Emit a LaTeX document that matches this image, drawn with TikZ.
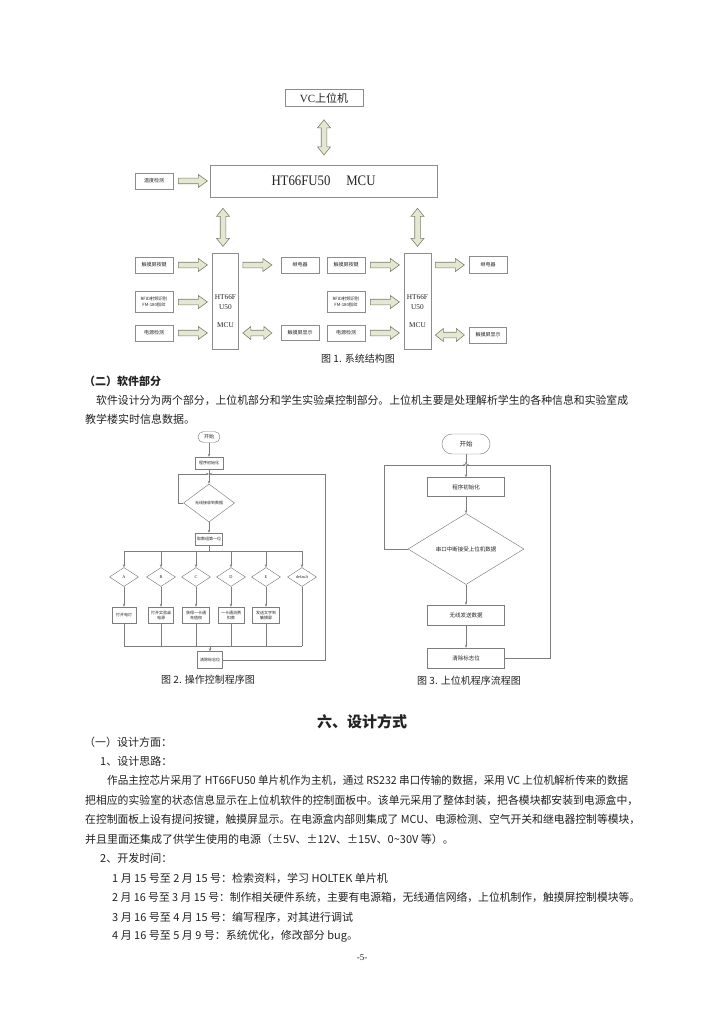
\documentclass[tikz,border=0pt]{standalone}
\usepackage{fontspec}
\usepackage{graphicx}
\setmainfont{Noto Sans CJK SC}
\newfontfamily\serf{Liberation Serif}
\usetikzlibrary{shapes.geometric,arrows.meta}
\definecolor{arrfill}{RGB}{228,231,210}
\definecolor{arrline}{RGB}{125,128,105}
\definecolor{boxline}{RGB}{140,140,140}
\definecolor{flow}{RGB}{125,125,125}
\definecolor{txt}{RGB}{35,35,35}
\begin{document}
\begin{tikzpicture}[x=1pt,y=-1pt,
  lbox/.style={draw=boxline, line width=0.7pt, inner sep=0.5pt, align=center, font=\fontsize{5}{6}\selectfont, text=txt},
  blk/.style={draw=arrline, fill=arrfill, line width=0.6pt, line join=miter},
  fl/.style={draw=flow, line width=0.45pt},
  fla/.style={draw=flow, line width=0.45pt, -{Stealth[length=3pt,width=2.4pt]}},
  flbox/.style={draw=flow, line width=0.45pt, inner sep=0.3pt, align=center, text=txt},
  fldia/.style={diamond, draw=flow, line width=0.45pt, inner sep=0pt, align=center, text=txt},
  body/.style={anchor=west, inner sep=0pt, font=\fontsize{11}{13}\selectfont, text=txt},
  capt/.style={inner sep=0pt, font=\fontsize{10}{12}\selectfont, text=txt},
  pics/rarr/.style={code={\draw[blk] (0,-2.8)--(20,-2.8)--(20,-6.5)--(29,0)--(20,6.5)--(20,2.8)--(0,2.8)--cycle;}},
  pics/harr/.style={code={\draw[blk] (0,0)--(8,-6.5)--(8,-2.8)--(21,-2.8)--(21,-6.5)--(29,0)--(21,6.5)--(21,2.8)--(8,2.8)--(8,6.5)--cycle;}},
  pics/varr/.style={code={\draw[blk] (0,0)--(6.5,8)--(2.8,8)--(2.8,#1-8)--(6.5,#1-8)--(0,#1)--(-6.5,#1-8)--(-2.8,#1-8)--(-2.8,8)--(-6.5,8)--cycle;}},
]
\useasboundingbox[fill=white] (0,0) rectangle (724,1024);

%% ---------------- Figure 1 ----------------
\node[lbox, minimum width=78, minimum height=17, font=\fontsize{11}{12}\selectfont] (vc) at (324,98) {{\serf VC}上位机};
\node[lbox, minimum width=227, minimum height=32, font=\serf\fontsize{14.5}{15}\selectfont] (mcu) at (323.5,181) {\resizebox{104pt}{\height}{HT66FU50\hspace{18pt}MCU}};
\node[lbox, minimum width=38, minimum height=16] (temp) at (154,181) {温度检测};

\node[lbox, minimum width=38, minimum height=16] (lk1) at (154,265) {触摸屏按键};
\node[lbox, minimum width=38, minimum height=21, font=\fontsize{4.3}{5.5}\selectfont] (lk2) at (154,302) {RFID射频识别\\FM-180指纹};
\node[lbox, minimum width=38, minimum height=16] (lk3) at (154,333) {电源检测};
\node[lbox, minimum width=26, minimum height=96] (lmcu) at (225.5,301) {};
\node[inner sep=0pt, align=center, font=\serf\fontsize{7.3}{10}\selectfont, text=txt] at ([yshift=-10pt]lmcu.center) {HT66F\\U50\\[8pt]MCU};
\node[lbox, minimum width=38, minimum height=16] (jd1) at (300,265) {继电器};
\node[lbox, minimum width=38, minimum height=15] (xs1) at (300,333) {触摸屏显示};

\node[lbox, minimum width=38, minimum height=16] (rk1) at (346,265) {触摸屏按键};
\node[lbox, minimum width=38, minimum height=21, font=\fontsize{4.3}{5.5}\selectfont] (rk2) at (346,302) {RFID射频识别\\FM-180指纹};
\node[lbox, minimum width=38, minimum height=16] (rk3) at (346,333) {电源检测};
\node[lbox, minimum width=27, minimum height=96] (rmcu) at (417.5,301) {};
\node[inner sep=0pt, align=center, font=\serf\fontsize{7.3}{10}\selectfont, text=txt] at ([yshift=-10pt]rmcu.center) {HT66F\\U50\\[8pt]MCU};
\node[lbox, minimum width=38, minimum height=17] (jd2) at (488,265) {继电器};
\node[lbox, minimum width=37, minimum height=16] (xs2) at (488,335) {触摸屏显示};

% block arrows
\path ([yshift=-13pt]vc.south) pic {varr=35};
\path ([xshift=5pt]temp.east) pic {rarr};
\path ([xshift=-2.5pt,yshift=-11pt]mcu.south -| lmcu.center) pic {varr=38};
\path ([yshift=-11pt]mcu.south -| rmcu.center) pic {varr=38};
\path ([xshift=5pt]lk1.east) pic {rarr};
\path ([xshift=5pt]lk2.east) pic {rarr};
\path ([xshift=5pt]lk3.east) pic {rarr};
\path ([xshift=4pt]lmcu.east |- jd1.center) pic {rarr};
\path ([xshift=4pt]lmcu.east |- xs1.center) pic {harr};
\path ([xshift=5pt]rk1.east) pic {rarr};
\path ([xshift=5pt]rk2.east) pic {rarr};
\path ([xshift=5pt]rk3.east) pic {rarr};
\path ([xshift=4pt]rmcu.east |- jd2.center) pic {rarr};
\path ([xshift=4pt]rmcu.east |- xs2.center) pic {harr};

\node[capt] (cap1) at (358,359) {图 1. 系统结构图};

%% ---------------- text block 1 ----------------
\node[body, font=\bfseries\fontsize{11}{13}\selectfont] (h2) at (84,381) {（二）软件部分};
\node[body] (p1) at (96,400) {\resizebox{532pt}{\height}{软件设计分为两个部分，上位机部分和学生实验桌控制部分。上位机主要是处理解析学生的各种信息和实验室成}};
\node[body] (p2) at (85,419) {教学楼实时信息数据。};

%% ---------------- Figure 2 ----------------
\begin{scope}[every node/.append style={font=\fontsize{4}{5}\selectfont}]
\node[flbox, rounded corners=5.5pt, minimum width=22, minimum height=11, font=\fontsize{5}{6}\selectfont] (s2) at (209,437) {开始};
\node[flbox, minimum width=28, minimum height=12] (i2) at (209,463) {程序初始化};
\node[fldia, minimum width=51, minimum height=38] (q2) at (209,503) {无线接收到数据};
\node[flbox, minimum width=27, minimum height=12] (f2) at (209,539) {取数组第一位};
\coordinate (j2) at (209,474);
\coordinate (bus) at (209,551);
\coordinate (mrg) at (209,646);
\foreach \n/\x/\t in {1/124/A,2/161/B,3/196/C,4/231/D,5/266/E,6/302/default}
  \node[fldia, minimum width=29, minimum height=19, font=\serf\fontsize{4.3}{5}\selectfont] (d\n) at (\x,577) {\t};
\node[flbox, minimum width=24, minimum height=16] (b1) at (124,615) {打开电灯};
\node[flbox, minimum width=25, minimum height=16] (b2) at (161,615) {打开实验桌\\电源};
\node[flbox, minimum width=27, minimum height=16] (b3) at (196,615) {获得一卡通\\充值权};
\node[flbox, minimum width=26, minimum height=16] (b4) at (231,615) {一卡通消费\\扣款};
\node[flbox, minimum width=27, minimum height=16] (b5) at (266,615) {发送文字到\\触摸屏};
\node[flbox, minimum width=25, minimum height=17] (e2) at (210,660) {清除标志位};
\end{scope}
\draw[fla] (s2) -- (i2);
\draw[fla] (i2) -- (q2);
\draw[fla] (q2) -- (f2);
\draw[fl] (f2) -- (bus);
\draw[fl] (d1.north |- bus) -- (d6.north |- bus);
\foreach \n in {1,...,6} \draw[fla] (d\n.north |- bus) -- (d\n.north);
\foreach \n in {1,...,5} {\draw[fla] (d\n) -- (b\n); \draw[fl] (b\n.south) -- (b\n.south |- mrg);}
\draw[fl] (d6.south) -- (d6.south |- mrg);
\draw[fl] (b1.south |- mrg) -- (d6.south |- mrg);
\draw[fla] (e2.north |- mrg) -- (e2.north);
\draw[fla] (q2.west) -- ++(-5,0) |- (j2);
\draw[fla] (e2.east) -- (325,660) |- (j2);
\node[capt] (cap2) at (208,680) {图 2. 操作控制程序图};

%% ---------------- Figure 3 ----------------
\begin{scope}[every node/.append style={font=\fontsize{5.5}{6.5}\selectfont}]
\node[flbox, rounded corners=10pt, minimum width=48, minimum height=20, font=\fontsize{6.5}{7.5}\selectfont] (s3) at (466,444) {开始};
\node[flbox, minimum width=77, minimum height=19] (i3) at (466,487) {程序初始化};
\node[fldia, minimum width=116, minimum height=71] (q3) at (466,549) {串口中断接受上位机数据};
\node[flbox, minimum width=77, minimum height=20] (w3) at (466,615) {无线发送数据};
\node[flbox, minimum width=77, minimum height=20] (c3) at (466,658) {清除标志位};
\end{scope}
\coordinate (j3) at (466,465);
\draw[fla] (s3) -- (j3);
\draw[fla] (j3) -- (i3);
\draw[fla] (i3) -- (q3);
\draw[fla] (q3) -- (w3);
\draw[fla] (w3) -- (c3);
\draw[fla] (q3.west) -- (384,549) |- (j3);
\draw[fla] (c3.east) -- (550,658) |- (j3);
\node[capt] (cap3) at (469,681) {图 3. 上位机程序流程图};

%% ---------------- text block 2 ----------------
\node[inner sep=0pt, font=\bfseries\fontsize{15}{17}\selectfont, text=txt] (h6) at (362,722) {六、设计方式};
\node[body] (t1) at (84,742) {（一）设计方面：};
\node[body] (t2) at (100,761) {1、设计思路：};
\node[body] (t3) at (107,780) {\resizebox{521pt}{\height}{作品主控芯片采用了 HT66FU50 单片机作为主机，通过 RS232 串口传输的数据，采用 VC 上位机解析传来的数据}};
\node[body] (t4) at (85,800) {\resizebox{553pt}{\height}{把相应的实验室的状态信息显示在上位机软件的控制面板中。该单元采用了整体封装，把各模块都安装到电源盒中，}};
\node[body] (t5) at (85,819) {\resizebox{555pt}{\height}{在控制面板上设有提问按键，触摸屏显示。在电源盒内部则集成了 MCU、电源检测、空气开关和继电器控制等模块，}};
\node[body] (t6) at (85,839) {并且里面还集成了供学生使用的电源（±5V、±12V、±15V、0\char"7E 30V 等）。};
\node[body] (t7) at (100,858) {2、开发时间：};
\node[body] (t8) at (112,878) {1 月 15 号至 2 月 15 号：检索资料，学习 HOLTEK 单片机};
\node[body] (t9) at (112,897) {\resizebox{528pt}{\height}{2 月 16 号至 3 月 15 号：制作相关硬件系统，主要有电源箱，无线通信网络，上位机制作，触摸屏控制模块等。}};
\node[body] (t10) at (112,917) {3 月 16 号至 4 月 15 号：编写程序，对其进行调试};
\node[body] (t11) at (112,936) {4 月 16 号至 5 月 9 号：系统优化，修改部分 bug。};
\node[inner sep=0pt, font=\serf\fontsize{9}{10}\selectfont, text=txt] (pg) at (362,958) {-5-};
\end{tikzpicture}
\end{document}
